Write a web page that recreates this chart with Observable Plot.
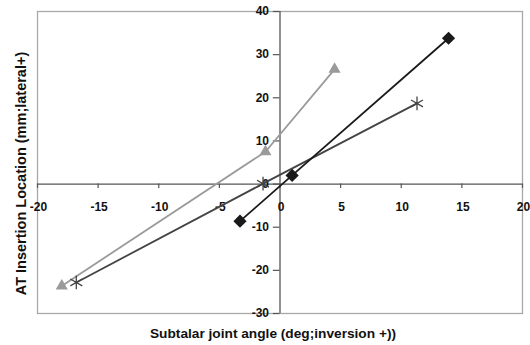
<!DOCTYPE html>
<html>
<head>
<meta charset="utf-8">
<script src="https://cdn.jsdelivr.net/npm/d3@7"></script>
<script src="https://cdn.jsdelivr.net/npm/@observablehq/plot@0.6"></script>
<style>
  html, body { margin: 0; padding: 0; background: #fff; }
  #chart { width: 530px; height: 345px; }
</style>
</head>
<body>
<div id="chart"></div>
<script>
// Data
const seriesDiamondX = [-3.3, 1.0, 13.9];
const seriesDiamondY = [-8.6, 2.0, 33.8];
const seriesStarX = [-16.8, -1.4, 11.3];
const seriesStarY = [-22.8, 0.1, 18.7];
const seriesTriX = [-18.0, -1.2, 4.5];
const seriesTriY = [-23.6, 7.5, 26.6];

const xTicks = [-20, -15, -10, -5, 0, 5, 10, 15, 20];
const yTicks = [-30, -20, -10, 0, 10, 20, 30, 40];

const xTitle = "Subtalar joint angle (deg;inversion +))";
const yTitle = "AT Insertion Location (mm;lateral+)";

const toRows = (xs, ys) => xs.map((x, i) => ({x, y: ys[i]}));
const diamond = toRows(seriesDiamondX, seriesDiamondY);
const star = toRows(seriesStarX, seriesStarY);
const tri = toRows(seriesTriX, seriesTriY);

const font = "'Liberation Sans', Arial, sans-serif";

const chart = Plot.plot({
  width: 530,
  height: 345,
  marginLeft: 37,
  marginRight: 8,
  marginTop: 11,
  marginBottom: 32,
  style: {fontFamily: font, fontSize: "12px", background: "#fff", color: "#111"},
  x: {domain: [-20, 20], axis: null},
  y: {domain: [-30, 40], axis: null},
  marks: [
    Plot.frame({stroke: "#a8a8a8", strokeWidth: 1.3}),
    Plot.ruleY([0], {stroke: "#555", strokeWidth: 1.3}),
    Plot.ruleX([0], {stroke: "#555", strokeWidth: 1.3}),
    Plot.ruleY(yTicks, {y: d => d, x1: 0, x2: -0.55, stroke: "#555", strokeWidth: 1.2}),
    Plot.ruleX(xTicks, {x: d => d, y1: 0, y2: -1, stroke: "#555", strokeWidth: 1.2}),
    Plot.text(yTicks, {x: 0, y: d => d, text: d => String(d), textAnchor: "end", dx: -11, fill: "#111", fontSize: 12, fontWeight: "bold"}),
    Plot.text(xTicks, {x: d => d, y: 0, text: d => String(d), dy: 23, dx: 1, fill: "#111", fontSize: 12, fontWeight: "bold"}),
    Plot.line(tri, {x: "x", y: "y", stroke: "#9a9a9a", strokeWidth: 1.8}),
    Plot.dot(tri, {x: "x", y: "y", symbol: "triangle", fill: "#9a9a9a", r: 4.5}),
    Plot.line(star, {x: "x", y: "y", stroke: "#444", strokeWidth: 1.8}),
    Plot.dot(star, {x: "x", y: "y", symbol: "asterisk", stroke: "#444", strokeWidth: 1.3, r: 6.5}),
    Plot.line(diamond, {x: "x", y: "y", stroke: "#1a1a1a", strokeWidth: 1.8}),
    Plot.dot(diamond, {x: "x", y: "y", symbol: "diamond2", fill: "#1a1a1a", stroke: "#1a1a1a", r: 5}),
    Plot.text([xTitle], {frameAnchor: "bottom", text: d => d, dy: 24, dx: -7, fill: "#111", fontSize: 13.7, fontWeight: "bold"}),
    Plot.text([yTitle], {frameAnchor: "left", text: d => d, rotate: -90, textAnchor: "middle", dx: -16, dy: 11, fill: "#111", fontSize: 14.5, fontWeight: "bold"})
  ]
});
document.getElementById("chart").appendChild(chart);
</script>
</body>
</html>
